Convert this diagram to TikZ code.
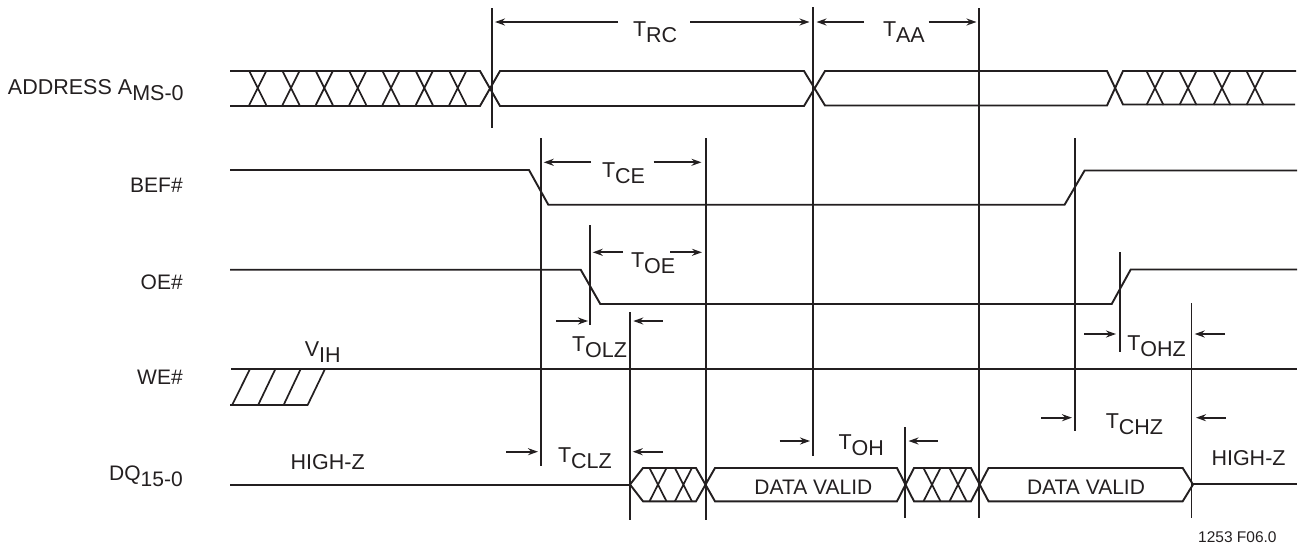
\documentclass[tikz,border=0pt]{standalone}
\usepackage{fontspec}
\setmainfont{Liberation Sans}
\usetikzlibrary{arrows.meta}
\definecolor{ink}{HTML}{231F20}
\newcommand{\tsub}[2]{#1\raisebox{-6pt}{#2}}
\tikzset{
  sig/.style={draw=ink,line width=1.9pt,line join=miter},
  xmark/.style={draw=ink,line width=1.7pt},
  vline/.style={draw=ink,line width=1.9pt},
  dim/.style={draw=ink,line width=1.7pt,-{Stealth[length=10pt,width=7pt]}},
  lab/.style={inner sep=0pt,outer sep=0pt,anchor=base west,text=ink,font=\fontsize{21.5}{24}\selectfont},
  dv/.style={inner sep=0pt,outer sep=0pt,anchor=base,text=ink,font=\fontsize{21}{24}\selectfont},
  rlab/.style={inner sep=0pt,outer sep=0pt,anchor=base east,text=ink,font=\fontsize{21}{24}\selectfont},
}
\begin{document}
\begin{tikzpicture}[x=1pt,y=-1pt]
\useasboundingbox (0,0) rectangle (1299,544);
% ---- left labels
\node[lab] (laddr) at (8,94) {ADDRESS \tsub{A}{MS-0}};
\node[rlab] (lbef) at (182.7,192.7) {BEF\#};
\node[rlab] (loe) at (182.7,289.3) {OE\#};
\node[rlab] (lwe) at (182.7,384) {WE\#};
\node[rlab] (ldq) at (182.7,480) {\tsub{DQ}{15-0}};
% ---- address
\draw[sig] (230,71) -- (480,71) -- (500,106) -- (804,106) -- (825,71) -- (1107,71) -- (1123,104.5) -- (1295,104.5);
\draw[sig] (230,106) -- (480,106) -- (500,71) -- (804,71) -- (825,105.5) -- (1107,105.5) -- (1123,71) -- (1296,71);
\foreach \c in {257.7,291,324.3,357.7,391,424.3,457.7,1155,1188,1222,1255}{
  \draw[xmark] (\c-8.5,71) -- (\c+8.5,105) (\c-8.5,105) -- (\c+8.5,71);
}
% ---- BEF#
\draw[sig] (230,170) -- (529,170) -- (548.3,204.7) -- (1064.6,204.7) -- (1084.6,170.5) -- (1297,170.5);
% ---- OE#
\draw[sig] (230,269.7) -- (580.7,269.7) -- (600.3,304) -- (1111.7,304) -- (1130.7,269.5) -- (1297,269.5);
% ---- WE#
\draw[sig] (231,369) -- (1297,369);
\draw[xmark] (230,405.3) -- (307.5,405.3);
\foreach \a/\b in {250/232,275.4/258,300.7/283.5,325/307.5}{
  \draw[xmark] (\a,369) -- (\b,405.3);
}
% ---- DQ
\draw[sig] (230,484.7) -- (630,484.7);
\draw[sig] (1192,484) -- (1297,484);
\draw[sig] (630,484.5) -- (643,468) -- (696,468) -- (715,501.3) -- (897,501.3) -- (914,468) -- (971,468) -- (988.5,501.3) -- (1182.7,501.3) -- (1193,484.5);
\draw[sig] (630,484.5) -- (643,501.3) -- (696,501.3) -- (715,468) -- (897,468) -- (914,501.3) -- (971,501.3) -- (988.5,468) -- (1182.7,468) -- (1193,484.5);
\foreach \c in {658,683.4,932,958}{
  \draw[xmark] (\c-8.5,468) -- (\c+8.5,501.3) (\c-8.5,501.3) -- (\c+8.5,468);
}
\node[dv] (dv1) at (813.4,494) {DATA VALID};
\node[dv] (dv2) at (1086,494) {DATA VALID};
% ---- vertical markers
\coordinate (a1) at (491.7,8);   \coordinate (a2) at (491.7,128);
\coordinate (b1) at (540.8,138); \coordinate (b2) at (540.8,466);
\coordinate (c1) at (590.3,225); \coordinate (c2) at (590.3,325);
\coordinate (d1) at (629.7,312); \coordinate (d2) at (629.7,520);
\coordinate (e1) at (706,138);   \coordinate (e2) at (706,520);
\coordinate (f1) at (813.3,7);   \coordinate (f2) at (813.3,456);
\coordinate (g1) at (904.6,427); \coordinate (g2) at (904.6,518);
\coordinate (h1) at (979,8);     \coordinate (h2) at (979,518);
\coordinate (i1) at (1075,138);  \coordinate (i2) at (1075,431);
\coordinate (j1) at (1120,252);  \coordinate (j2) at (1120,352);
\coordinate (k1) at (1191.5,303);\coordinate (k2) at (1191.5,518);
\foreach \n in {a,b,c,d,e,f,g,h,i,j,k}{\draw[vline] (\n1) -- (\n2);}
% ---- timing labels
\node[lab] (trc) at (633,36) {\tsub{T}{RC}};
\node[lab] (taa) at (883,36) {\tsub{T}{AA}};
\node[lab] (tce) at (602,177) {\tsub{T}{CE}};
\node[lab] (toe) at (631,267) {\tsub{T}{OE}};
\node[lab] (tolz) at (572,351) {\tsub{T}{OLZ}};
\node[lab] (tohz) at (1127.3,350) {\tsub{T}{OHZ}};
\node[lab] (tchz) at (1105.8,428) {\tsub{T}{CHZ}};
\node[lab] (toh) at (838.5,449) {\tsub{T}{OH}};
\node[lab] (tclz) at (558,462) {\tsub{T}{CLZ}};
\node[lab] (vih) at (304.8,356.5) {\tsub{V}{IH}};
\node[lab] (hz1) at (290.6,469) {HIGH-Z};
\node[lab] (hz2) at (1211.5,465) {HIGH-Z};
\node[inner sep=0pt,anchor=base west,text=ink,font=\fontsize{15.5}{18}\selectfont] (fig) at (1198,542) {1253 F06.0};
% ---- dimension arrows
\draw[dim] (618,22) -- (495,22);
\draw[dim] (690,22) -- (809.5,22);
\draw[dim] (864,22) -- (816.5,22);
\draw[dim] (928.5,22) -- (976.5,22);
\draw[dim] (591,162.3) -- (543.7,162.3);
\draw[dim] (653.7,162.3) -- (701.5,162.3);
\draw[dim] (623,252.3) -- (592.7,252.3);
\draw[dim] (670,252.3) -- (702,252.3);
\draw[dim] (556,321) -- (588,321);
\draw[dim] (662.7,321) -- (633.3,321);
\draw[dim] (506,451.7) -- (538,451.7);
\draw[dim] (663,451.7) -- (632.7,451.7);
\draw[dim] (779.6,441) -- (810,441);
\draw[dim] (937.7,441) -- (908.5,441);
\draw[dim] (1084,334) -- (1116,334);
\draw[dim] (1225,334) -- (1194.7,334);
\draw[dim] (1041,417.7) -- (1072,417.7);
\draw[dim] (1225.7,417.7) -- (1196,417.7);
\end{tikzpicture}
\end{document}
